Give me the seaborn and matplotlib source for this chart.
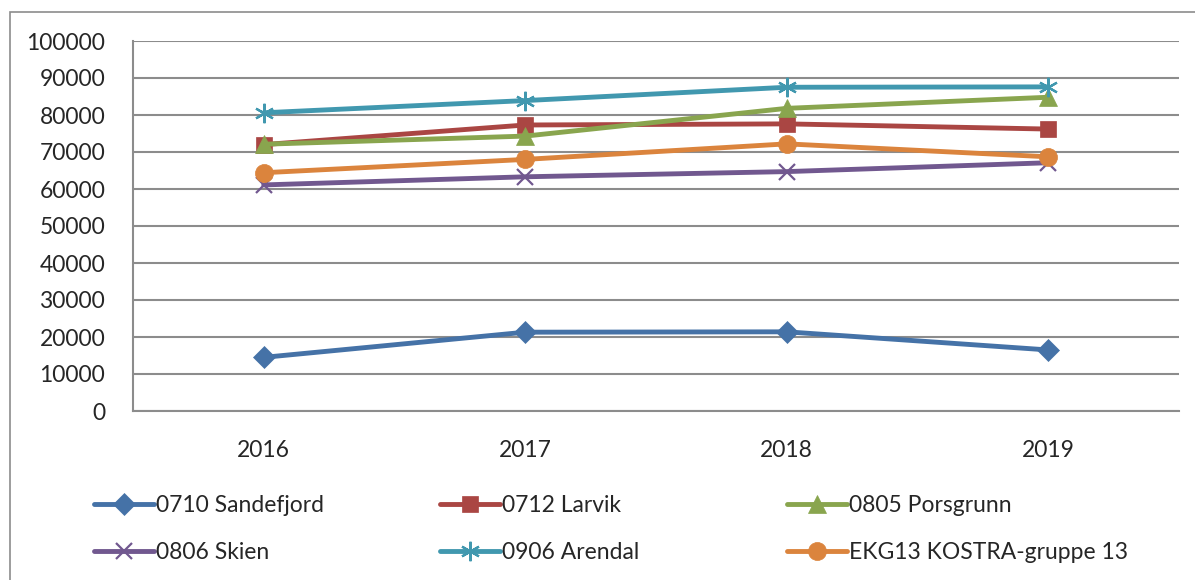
import matplotlib
matplotlib.use("Agg")
import matplotlib.pyplot as plt
import numpy as np
import pandas as pd
import seaborn as sns

years = ["2016", "2017", "2018", "2019"]
series = ["0710 Sandefjord", "0712 Larvik", "0805 Porsgrunn",
          "0806 Skien", "0906 Arendal", "EKG13 KOSTRA-gruppe 13"]
sandefjord = [14500, 21300, 21400, 16500]
larvik = [72000, 77300, 77600, 76200]
porsgrunn = [72100, 74300, 81800, 84800]
skien = [61100, 63300, 64700, 67100]
arendal = [80600, 83900, 87500, 87600]
ekg13 = [64400, 68000, 72200, 68700]
yticks = list(range(0, 100001, 10000))

values = [sandefjord, larvik, porsgrunn, skien, arendal, ekg13]
colors = ["#4572A7", "#AA4643", "#89A54E", "#71588F", "#4198AF", "#DB843D"]
markers = ["D", "s", "^", "x", (6, 2, 0), "o"]
msizes = [11, 12, 13, 12, 14, 13]

sns.set_style("white")
plt.rcParams["font.family"] = ["Lato", "DejaVu Sans"]

fig = plt.figure(figsize=(11.95, 5.8), dpi=100)
ax = fig.add_axes([133 / 1195, 1 - 411 / 580, (1179 - 133) / 1195, (411 - 41) / 580])

lines = []
for name, vals, col, mk, ms in zip(series, values, colors, markers, msizes):
    d = pd.DataFrame({"pos": range(len(years)), "verdi": vals})
    line_art = mk == "x" or isinstance(mk, tuple)
    sns.lineplot(data=d, x="pos", y="verdi", color=col, marker=mk, markersize=ms,
                 markeredgecolor=col, markeredgewidth=1.6 if line_art else 0.5,
                 linewidth=3.5, ax=ax, label=name, legend=False)
    lines.append(ax.get_lines()[-1])

ax.set_xlim(-0.5, 3.5)
ax.set_ylim(0, 100000)
ax.set_yticks(yticks)
ax.set_yticklabels([str(t) for t in yticks])
ax.set_xticks(range(len(years)))
ax.set_xticklabels(years)
ax.set_xticks(np.arange(-0.5, 3.6, 1), minor=True)
ax.tick_params(axis="x", which="major", length=0, pad=21, labelsize=16.5)
ax.tick_params(axis="x", which="minor", length=8, width=1.3, color="#8c8c8c", direction="out")
ax.tick_params(axis="y", length=8, width=1.3, color="#8c8c8c", direction="out",
               pad=12, labelsize=16.5)
ax.set_xlabel("")
ax.set_ylabel("")
ax.yaxis.grid(True, color="#8c8c8c", linewidth=1.5)
ax.xaxis.grid(False)
ax.set_axisbelow(True)
for side in ["top", "right"]:
    ax.spines[side].set_visible(False)
for side in ["left", "bottom"]:
    ax.spines[side].set_color("#8c8c8c")
    ax.spines[side].set_linewidth(1.5)

# legend in three columns, two rows
col_x = [94 / 1195, 440 / 1195, 787 / 1195]
for c in range(3):
    idx = [c, c + 3]
    fig.legend([lines[i] for i in idx], [series[i] for i in idx],
               loc="upper left", bbox_to_anchor=(col_x[c], 1 - 495 / 580),
               frameon=False, fontsize=16.5, handlelength=2.6, handletextpad=0.1,
               labelspacing=1.15, borderaxespad=0, borderpad=0)

border = plt.Rectangle((10 / 1195, -0.05), 1.1, 1 - 12 / 580 + 0.05,
                       transform=fig.transFigure, fill=False,
                       edgecolor="#8c8c8c", linewidth=1.2)
fig.patches.append(border)

fig.savefig("out.png", dpi=100)
